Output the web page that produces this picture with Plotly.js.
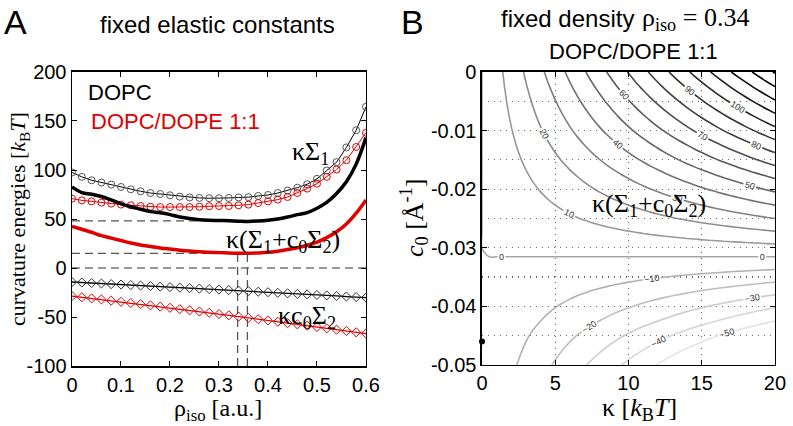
<!DOCTYPE html>
<html>
<head>
<meta charset="utf-8">
<script src="https://cdn.plot.ly/plotly-3.0.1.min.js"></script>
<style>
  html, body { margin: 0; padding: 0; background: #fff; }
  #chart { width: 793px; height: 426px; }
</style>
</head>
<body>
<div id="chart"></div>
<script>
// Panel A: energies vs isotropic density
const rho = [0, 0.02, 0.04, 0.06, 0.08, 0.10, 0.12, 0.14, 0.16, 0.18, 0.20, 0.22, 0.24, 0.26, 0.28, 0.30,
  0.32, 0.34, 0.36, 0.38, 0.40, 0.42, 0.44, 0.46, 0.48, 0.50, 0.52, 0.54, 0.56, 0.58, 0.60];

// kappa*Sigma1
const bendDOPC = [97.5, 93, 89.5, 87.2, 85.1, 82.7, 80.3, 78.3, 76.5, 75.5, 74.2, 72.8, 72, 71.5, 71.2, 71.2,
  71.5, 72, 72.3, 73.5, 74.5, 76.5, 79, 82, 85.5, 91, 99.5, 108, 123, 140.5, 164.5];
const bendMix = [70.8, 69, 68, 66.7, 65.7, 64.7, 64, 63.3, 62.5, 62.2, 62.2, 62.2, 62.2, 62.5, 63, 63.2,
  63.3, 64, 64.7, 66.3, 68, 69.8, 72.5, 76.6, 81, 86, 93, 100.5, 110, 123.5, 138];

// kappa*c0*Sigma2
const spontDOPC = [-14.3, -14.8, -15.3, -15.8, -16.4, -16.9, -17.4, -17.9, -18.4, -19, -19.5, -20, -20.5, -21, -21.5, -22,
  -22.5, -23.1, -23.6, -24.2, -24.7, -25.3, -25.8, -26.4, -26.9, -27.5, -28, -28.5, -29.1, -29.6, -30.2];
const spontMix = [-28.6, -29.8, -31, -32.1, -33.3, -34.5, -35.7, -36.9, -38.1, -39.4, -40.6, -41.9, -43.2, -44.4, -45.7, -47,
  -48.3, -49.6, -50.9, -52.2, -53.5, -54.8, -56.2, -57.5, -58.9, -60.2, -61.6, -62.9, -64.3, -65.6, -67];

// kappa*(Sigma1 + c0*Sigma2)
const totalDOPC = [82.7, 77, 75.3, 73, 69.5, 65.5, 62.5, 60, 57.5, 56.3, 54.5, 52, 50.5, 49.3, 48.7, 48.5,
  48.2, 47.8, 47.5, 48, 48.8, 50, 52, 54.5, 56.5, 61, 67, 76, 88, 106, 133];
const totalMix = [42.5, 39.5, 36.5, 33, 30.5, 28, 25.5, 23.5, 22, 20.5, 19.3, 18.2, 17.3, 16.6, 16.1, 15.7,
  15.3, 15.1, 15.1, 15.4, 16, 17.2, 18.8, 20.7, 23.2, 26.5, 31, 37, 45, 56, 69.5];

// reference guides
const minDOPC = 48;
const minMix = 15;
const guideRhoEnd = 0.35;
const rhoMarks = [0.338, 0.358];

// tick labels (plain hyphen minus, as in the figure)
const rhoTicks = [0, 0.1, 0.2, 0.3, 0.4, 0.5, 0.6];
const energyTicks = [-100, -50, 0, 50, 100, 150, 200];
const energyLabels = ['-100', '-50', '0', '50', '100', '150', '200'];
const kappaTicks = [0, 5, 10, 15, 20];
const c0Ticks = [-0.05, -0.04, -0.03, -0.02, -0.01, 0];
const c0Labels = ['-0.05', '-0.04', '-0.03', '-0.02', '-0.01', '0'];

// Panel B: contour of kappa*(Sigma1 + c0*Sigma2) at rho_iso = 0.34
const kappa = [0, 0.5, 1, 1.5, 2, 2.5, 3, 3.5, 4, 4.5, 5, 5.5, 6, 6.5, 7, 7.5, 8, 8.5, 9, 9.5, 10,
  10.5, 11, 11.5, 12, 12.5, 13, 13.5, 14, 14.5, 15, 15.5, 16, 16.5, 17, 17.5, 18, 18.5, 19, 19.5, 20];
const c0 = [-0.05, -0.0475, -0.045, -0.0425, -0.04, -0.0375, -0.035, -0.0325, -0.03, -0.0275, -0.025,
  -0.0225, -0.02, -0.0175, -0.015, -0.0125, -0.01, -0.0075, -0.005, -0.0025, 0];
const sigmaEff = [-4.2, -3.65, -3.1, -2.5, -1.95, -1.38, -0.8, -0.22, 0.35, 0.92, 1.5,
  2.05, 2.6, 3.15, 3.72, 4.28, 4.85, 5.4, 5.95, 6.5, 7.05];
const markedPoint = {kappa: 0, c0: -0.046};

const zGrid = c0.map((_, i) => kappa.map(k => k * sigmaEff[i]));

const serif = 'Liberation Serif, Times New Roman, serif';
const sans = 'Liberation Sans, Arial, sans-serif';

const guideLine = {color: '#555', width: 1.3, dash: '8px,5px'};

const traces = [
  // guides
  {x: [0, guideRhoEnd], y: [minDOPC, minDOPC], mode: 'lines', line: guideLine},
  {x: [0, guideRhoEnd], y: [minMix, minMix], mode: 'lines', line: guideLine},
  {x: [0, 0.6], y: [0, 0], mode: 'lines', line: {color: '#777', width: 1.5, dash: '8px,5px'}},
  {x: [rhoMarks[0], rhoMarks[0]], y: [-100, minMix], mode: 'lines', line: guideLine},
  {x: [rhoMarks[1], rhoMarks[1]], y: [-100, minMix], mode: 'lines', line: guideLine},
  // kappa Sigma1
  {x: rho, y: bendDOPC, mode: 'lines+markers', line: {color: '#000', width: 1},
   marker: {symbol: 'circle-open', size: 7, color: '#555', line: {width: 1}}},
  {x: rho, y: bendMix, mode: 'lines+markers', line: {color: '#e00000', width: 1},
   marker: {symbol: 'circle-open', size: 7, color: '#e00000', line: {width: 1}}},
  // totals
  {x: rho, y: totalDOPC, mode: 'lines', line: {color: '#000', width: 3.5, shape: 'spline'}},
  {x: rho, y: totalMix, mode: 'lines', line: {color: '#e00000', width: 3.5, shape: 'spline'}},
  // kappa c0 Sigma2
  {x: rho, y: spontDOPC, mode: 'lines+markers', line: {color: '#000', width: 1.3},
   marker: {symbol: 'diamond-open', size: 7, color: '#333', line: {width: 1}}},
  {x: rho, y: spontMix, mode: 'lines+markers', line: {color: '#e00000', width: 1.3},
   marker: {symbol: 'diamond-open', size: 7, color: '#e00000', line: {width: 1}}},
  // panel B
  {type: 'contour', x: kappa, y: c0, z: zGrid, xaxis: 'x2', yaxis: 'y2',
   autocontour: false, contours: {start: -50, end: 140, size: 10, coloring: 'lines',
     showlabels: true, labelfont: {size: 9, color: '#333', family: sans}},
   colorscale: [[0, '#e4e4e4'], [1, '#000000']], zmin: -50, zmax: 130,
   line: {width: 1.6, smoothing: 1}, showscale: false, hoverinfo: 'skip'},
  {x: [markedPoint.kappa], y: [markedPoint.c0], xaxis: 'x2', yaxis: 'y2', mode: 'markers',
   marker: {color: '#000', size: 6}, cliponaxis: false}
];

const axisBase = {
  showline: true, linecolor: '#000', linewidth: 1.5, mirror: 'ticks',
  ticks: 'inside', ticklen: 5, tickcolor: '#000', zeroline: false, showgrid: false,
  tickfont: {family: sans, size: 20, color: '#000'}
};
const dotGrid = {showgrid: true, gridcolor: '#666', griddash: '1px,5px', gridwidth: 1.2};

const layout = {
  width: 793, height: 426,
  margin: {l: 0, r: 0, t: 0, b: 0},
  paper_bgcolor: '#fff', plot_bgcolor: '#fff',
  showlegend: false,
  xaxis: Object.assign({}, axisBase, {domain: [0.0908, 0.4615], range: [0, 0.6],
    tickvals: rhoTicks, ticktext: rhoTicks.map(String)}),
  yaxis: Object.assign({}, axisBase, {domain: [0.1408, 0.831], range: [-100, 200],
    tickvals: energyTicks, ticktext: energyLabels}),
  xaxis2: Object.assign({}, axisBase, dotGrid, {anchor: 'y2', domain: [0.6078, 0.9773], range: [0, 20],
    tickvals: kappaTicks, ticktext: kappaTicks.map(String)}),
  yaxis2: Object.assign({}, axisBase, dotGrid, {anchor: 'x2', domain: [0.1432, 0.831], range: [-0.05, 0],
    tickvals: c0Ticks, ticktext: c0Labels,
    minor: Object.assign({dtick: 0.005, ticks: ''}, dotGrid)}),
  annotations: [
    {text: 'A', x: 2, y: 22, xanchor: 'left', font: {family: sans, size: 34, color: '#000'}},
    {text: 'fixed elastic constants', x: 218, y: 25, font: {family: sans, size: 24, color: '#000'}},
    {text: 'B', x: 399, y: 22, xanchor: 'left', font: {family: sans, size: 34, color: '#000'}},
    {text: 'fixed density', x: 567, y: 19, font: {family: sans, size: 24, color: '#000'}},
    {text: 'ρ<sub>iso</sub> = 0.34', x: 695, y: 19, font: {family: serif, size: 26, color: '#000'}},
    {text: 'DOPC/DOPE 1:1', x: 633, y: 52, font: {family: sans, size: 22, color: '#000'}},
    {text: 'DOPC', x: 120, y: 92, font: {family: sans, size: 22, color: '#000'}},
    {text: 'DOPC/DOPE 1:1', x: 175, y: 121, font: {family: sans, size: 22, color: '#e00000'}},
    {text: 'κΣ<sub>1</sub>', x: 310, y: 153, font: {family: serif, size: 26, color: '#000'}},
    {text: 'κ(Σ<sub>1</sub>+c<sub>0</sub>Σ<sub>2</sub>)', x: 283, y: 241, font: {family: serif, size: 26, color: '#000'}},
    {text: 'κc<sub>0</sub>Σ<sub>2</sub>', x: 307, y: 317, font: {family: serif, size: 26, color: '#000'}},
    {text: 'κ(Σ<sub>1</sub>+c<sub>0</sub>Σ<sub>2</sub>)', x: 649, y: 205, font: {family: serif, size: 26, color: '#000'}},
    {text: 'curvature energies [<i>k</i><sub>B</sub><i>T</i>]', x: 19, y: 219, textangle: -90, font: {family: serif, size: 22, color: '#000'}},
    {text: 'ρ<sub>iso</sub> [a.u.]', x: 218, y: 410, font: {family: serif, size: 24, color: '#000'}},
    {text: '<i>c</i><sub>0</sub> [Å<sup>-1</sup>]', x: 414, y: 218, textangle: -90, font: {family: serif, size: 26, color: '#000'}},
    {text: 'κ [<i>k</i><sub>B</sub><i>T</i>]', x: 639, y: 409, font: {family: serif, size: 26, color: '#000'}}
  ].map(a => Object.assign({showarrow: false, xref: 'paper', yref: 'paper',
    xanchor: 'center', yanchor: 'middle'}, a, {x: a.x / 793, y: 1 - a.y / 426}))
};

Plotly.newPlot('chart', traces, layout, {staticPlot: true});
</script>
</body>
</html>
